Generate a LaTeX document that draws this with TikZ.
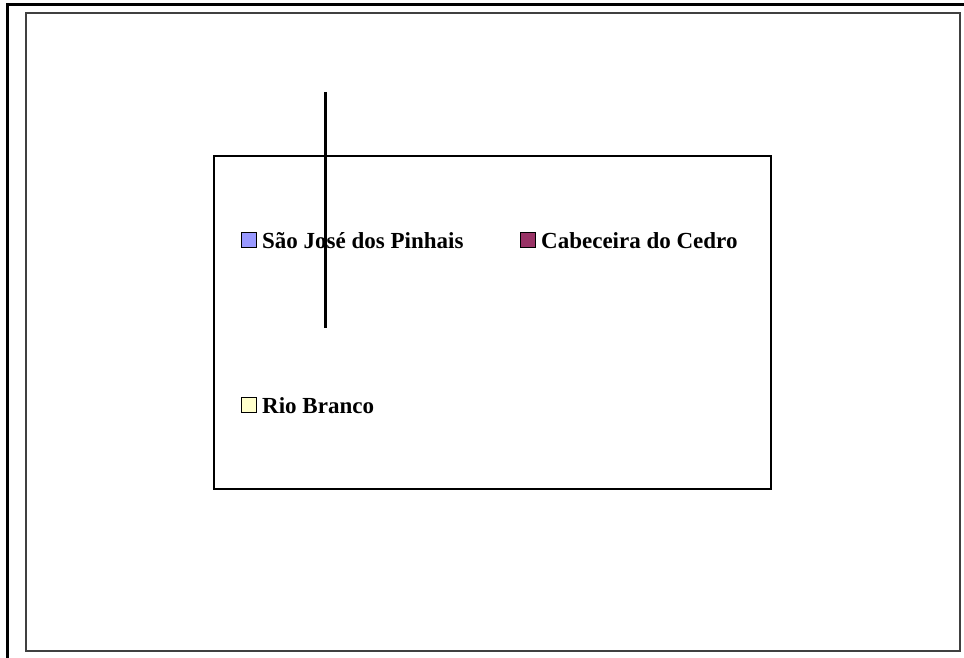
\documentclass[tikz,border=0pt]{standalone}
\usepackage{fontspec}
\setmainfont{Liberation Serif}
\definecolor{sjp}{HTML}{9999FF}
\definecolor{cdc}{HTML}{993366}
\definecolor{rbr}{HTML}{FFFFCC}
\begin{document}
\begin{tikzpicture}[x=1pt,y=-1pt,
  swatch/.style={draw=black,line width=1.3pt,minimum size=14.5pt,inner sep=0pt},
  lbl/.style={anchor=west,inner sep=0pt,font=\bfseries\fontsize{23}{23}\selectfont}]
\useasboundingbox (0,0) rectangle (964,658);
\fill[white] (0,0) rectangle (964,658);
% outer frame
\coordinate (otl) at (7,5);
\coordinate (otr) at (964,5);
\coordinate (obl) at (7,658);
\draw[line width=3pt] (otr) -- (otl) -- (obl);
% inner frame
\draw[line width=1.5pt,draw=black!75] (26,13) rectangle (960,651);
% legend box
\draw[line width=1.5pt] (214,156) rectangle (771,489);
% entries
\node[swatch,fill=sjp] (s1) at (249,240) {};
\node[lbl] (t1) at (262,241) {São José dos Pinhais};
\node[swatch,fill=cdc] (s2) at (528,240) {};
\node[lbl] (t2) at (541,241) {Cabeceira do Cedro};
\node[swatch,fill=rbr] (s3) at (249,405) {};
\node[lbl] (t3) at (262,406) {Rio Branco};
% vertical line
\coordinate (vt) at (325,92);
\coordinate (vb) at (325,328);
\draw[line width=3pt] (vt) -- (vb);
\end{tikzpicture}
\end{document}
